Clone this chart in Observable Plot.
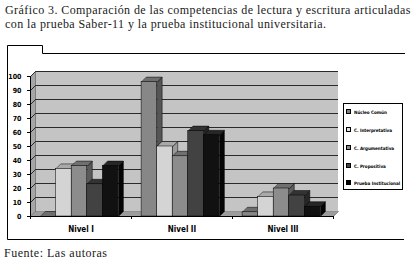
<!DOCTYPE html>
<html>
<head>
<meta charset="utf-8">
<script src="https://cdn.jsdelivr.net/npm/d3@7"></script>
<script src="https://cdn.jsdelivr.net/npm/@observablehq/plot@0.6"></script>
<style>
  html, body { margin: 0; padding: 0; background: #fff; }
  body { width: 411px; height: 264px; position: relative; overflow: hidden; }
  #title { position: absolute; left: 5px; top: 4px; font-family: "Liberation Serif", serif; font-size: 12px; line-height: 13.5px; letter-spacing: 0.42px; color: #1a1a1a; white-space: nowrap; }
  #caption { position: absolute; left: 4px; top: 246px; font-family: "Liberation Serif", serif; font-size: 12px; letter-spacing: 0.5px; color: #1a1a1a; }
  #frame { position: absolute; left: 0; top: 0; }
  #chart { position: absolute; left: 0; top: 45px; }
  #legend { position: absolute; left: 343px; top: 103px; width: 60px; height: 87px; border: 1px solid #000; background: #fff; box-sizing: border-box; font-family: "DejaVu Sans", sans-serif; font-stretch: condensed; font-size: 4.6px; letter-spacing: -0.05px; font-weight: bold; }
  .item { position: absolute; left: 2px; height: 6px; line-height: 6px; white-space: nowrap; }
  .sw { display: inline-block; width: 3px; height: 3px; border: 1px solid #000; vertical-align: middle; margin-right: 3px; position: relative; top: -1px; }
</style>
</head>
<body>
<svg id="frame" width="411" height="264"><path d="M7.5,239.5 V45.5 H42.5 V53.5 H405 M7.5,239.5 H404" fill="none" stroke="#000" stroke-width="1"/></svg>
<div id="title">Gráfico 3. Comparación de las competencias de lectura y escritura articuladas<br>con la prueba Saber-11 y la prueba institucional universitaria.</div>
<div id="chart"></div>
<div id="legend"></div>
<div id="caption">Fuente: Las autoras</div>
<script>
// ---- data ----
const levels = ["Nivel I", "Nivel II", "Nivel III"];
const series = ["Núcleo Común", "C. Interpretativa", "C. Argumentativa", "C. Propositiva", "Prueba Institucional"];
const nucleoComun    = [0, 96, 3];
const interpretativa = [34, 50, 14];
const argumentativa  = [36, 43, 20];
const propositiva    = [23, 61, 15];
const institucional  = [36, 58, 7];
const yTicks = [0, 10, 20, 30, 40, 50, 60, 70, 80, 90, 100];

// ---- styles ----
const seriesValues = [nucleoComun, interpretativa, argumentativa, propositiva, institucional];
const frontColors = ["#878787", "#d4d4d4", "#8c8c8c", "#424242", "#111111"];
const topColors   = ["#6e6e6e", "#a9a9a9", "#707070", "#333333", "#262626"];
const sideColors  = ["#555555", "#9a9a9a", "#5a5a5a", "#262626", "#050505"];
const legendColors = ["#808080", "#e0e0e0", "#8a8a8a", "#444444", "#000000"];

// ---- layout ----
const W = 411, H = 200, mL = 30, mR = 78, mT = 31, mB = 29;
const plotW = W - mL - mR, plotH = H - mT - mB;
const depthPx = 5;
const kx = depthPx * levels.length / plotW;   // depth in x units
const ky = depthPx * 100 / plotH;              // depth in y units
const groupPad = 0.1, barW = 0.154;

const fronts = [], tops = [], sides = [];
levels.forEach((lvl, i) => {
  series.forEach((s, j) => {
    const v = seriesValues[j][i];
    const x1 = i + groupPad + j * barW, x2 = x1 + barW;
    fronts.push({x1, x2, y1: 0, y2: v, c: frontColors[j]});
    const tid = `t${i}-${j}`, sid = `s${i}-${j}`;
    [[x1, v], [x2, v], [x2 + kx, v + ky], [x1 + kx, v + ky]].forEach(([x, y]) => tops.push({id: tid, x, y, c: topColors[j]}));
    [[x2, 0], [x2 + kx, ky], [x2 + kx, v + ky], [x2, v]].forEach(([x, y]) => sides.push({id: sid, x, y, c: sideColors[j]}));
  });
});
const n = levels.length;
const sideWall = [[0, 0], [0, 100], [kx, 100 + ky], [kx, ky]].map(([x, y]) => ({x, y}));
const floor = [[0, 0], [n, 0], [n + kx, ky], [kx, ky]].map(([x, y]) => ({x, y}));

const chart = Plot.plot({
  width: W, height: H,
  marginLeft: mL, marginRight: mR, marginTop: mT, marginBottom: mB,
  x: {domain: [0, n]},
  y: {domain: [0, 100]},
  color: {type: "identity"},
  style: {fontFamily: "'Liberation Sans Narrow', 'DejaVu Sans Condensed', sans-serif", fontWeight: "bold", fontSize: "7px", color: "#000", background: "transparent"},
  marks: [
    Plot.rect([0], {x1: 0, x2: n, y1: 0, y2: 100, dx: depthPx, dy: -depthPx, fill: "#c4c4c4"}),
    Plot.line(sideWall, {x: "x", y: "y", fill: "#a6a6a6", stroke: "#444", strokeWidth: 0.5, curve: "linear-closed"}),
    Plot.line(floor, {x: "x", y: "y", fill: "#9c9c9c", stroke: "#555", strokeWidth: 0.5, curve: "linear-closed"}),
    Plot.ruleY(yTicks.filter(d => d > 0), {x1: 0, x2: n, dx: depthPx, dy: -depthPx, stroke: "#2a2a2a", strokeWidth: 1}),
    Plot.link(yTicks.filter(d => d > 0), {x1: 0, y1: d => d, x2: kx, y2: d => d + ky, stroke: "#2a2a2a", strokeWidth: 1}),
    Plot.line(sides, {x: "x", y: "y", z: "id", fill: "c", stroke: "#000", strokeWidth: 0.5, curve: "linear-closed"}),
    Plot.line(tops, {x: "x", y: "y", z: "id", fill: "c", stroke: "#000", strokeWidth: 0.5, curve: "linear-closed"}),
    Plot.rect(fronts, {x1: "x1", x2: "x2", y1: "y1", y2: "y2", fill: "c", stroke: "#000", strokeWidth: 0.5}),
    Plot.ruleX([0], {y1: 0, y2: 100, stroke: "#000", strokeWidth: 1}),
    Plot.ruleY([0], {x1: 0, x2: n, stroke: "#000", strokeWidth: 1}),
    Plot.axisY({ticks: yTicks, tickSize: 3, tickPadding: 6, label: null, fontSize: 7}),
    Plot.axisX({ticks: d3.range(0, n + 1), tickSize: 3, tickFormat: () => "", label: null}),
    Plot.text(levels, {x: (d, i) => i + 0.5, y: 0, dy: 13, text: d => d, fontSize: 8, fill: "#000"})
  ]
});
document.getElementById("chart").appendChild(chart);

// legend
const legend = document.getElementById("legend");
const itemTops = [6, 24, 42, 60, 77];
series.forEach((s, j) => {
  const it = document.createElement("div");
  it.className = "item";
  it.style.top = itemTops[j] + "px";
  const sw = document.createElement("span");
  sw.className = "sw";
  sw.style.background = legendColors[j];
  it.appendChild(sw);
  it.appendChild(document.createTextNode(s));
  legend.appendChild(it);
});
</script>
</body>
</html>
